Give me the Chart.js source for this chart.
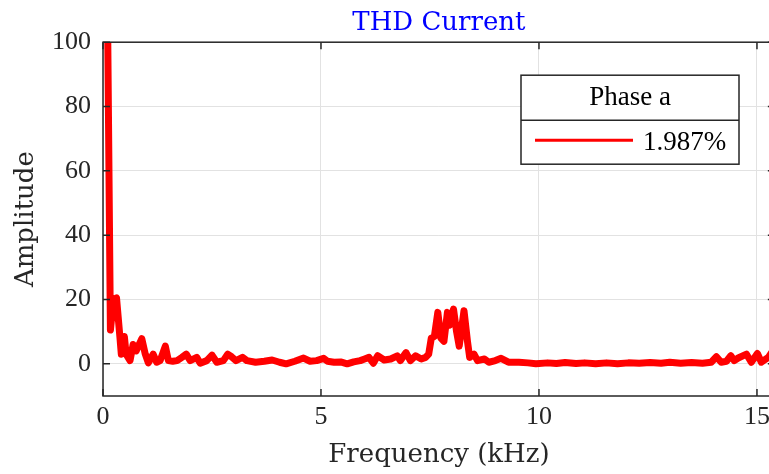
<!DOCTYPE html>
<html>
<head>
<meta charset="utf-8">
<script src="https://cdn.jsdelivr.net/npm/chart.js@4"></script>
<style>
  html, body { margin: 0; padding: 0; background: #fff; overflow: hidden; }
  #wrap { width: 776px; height: 474px; }
</style>
</head>
<body>
<div id="wrap"><canvas id="thdChart" width="776" height="474"></canvas></div>
<script>
// Spectrum (kHz, % of fundamental)
const freqKHz = [
  0.11, 0.17, 0.24, 0.31, 0.39, 0.42, 0.49, 0.53, 0.62, 0.69,
  0.76, 0.89, 0.97, 1.04, 1.15, 1.23, 1.31, 1.43, 1.5, 1.6,
  1.7, 1.81, 1.91, 2.0, 2.15, 2.23, 2.38, 2.5, 2.61, 2.76,
  2.86, 2.95, 3.05, 3.2, 3.3, 3.5, 3.7, 3.88, 4.05, 4.2,
  4.4, 4.6, 4.75, 4.9, 5.06, 5.15, 5.3, 5.45, 5.6, 5.75,
  5.9, 6.0, 6.1, 6.2, 6.3, 6.45, 6.6, 6.75, 6.82, 6.95,
  7.05, 7.17, 7.3, 7.4, 7.47, 7.53, 7.6, 7.68, 7.75, 7.82,
  7.9, 7.95, 8.04, 8.11, 8.17, 8.28, 8.36, 8.41, 8.51, 8.59,
  8.75, 8.85, 9.0, 9.13, 9.3, 9.54, 9.75, 9.93, 10.2, 10.4,
  10.6, 10.85, 11.05, 11.3, 11.55, 11.8, 12.05, 12.3, 12.55, 12.8,
  13.0, 13.25, 13.5, 13.75, 13.95, 14.07, 14.18, 14.3, 14.4, 14.48,
  14.57, 14.76, 14.87, 15.01, 15.1, 15.26, 15.46
];
const amplitude = [
  100, 10.5, 20, 20.5, 8, 3, 8.5, 3, 1, 6,
  4, 7.8, 3, 0.3, 3, 0.5, 1, 5.5, 1, 0.8,
  1, 2, 3, 1, 2, 0.2, 1, 2.7, 0.5, 1,
  3, 2.2, 1, 2, 1, 0.5, 0.8, 1.2, 0.5, 0,
  0.8, 1.8, 0.8, 1, 1.7, 0.8, 0.5, 0.6, 0, 0.6,
  1, 1.5, 2, 0.2, 2.5, 1.2, 1.5, 2.5, 1, 3.5,
  1, 2.5, 1.5, 2, 3, 8, 8.5, 16, 8, 7,
  16, 12, 17, 10, 5.5, 16.5, 7, 2, 3, 1,
  1.5, 0.5, 1, 1.7, 0.5, 0.5, 0.3, 0, 0.3, 0.1,
  0.4, 0.1, 0.3, 0, 0.3, 0, 0.3, 0.2, 0.4, 0.2,
  0.5, 0.2, 0.4, 0.2, 0.5, 2.2, 0.5, 0.8, 2.5, 1,
  1.8, 3, 0.5, 3.2, 0.5, 2, 6
];
const xTicks = [0, 5, 10, 15];
const yTicks = [0, 20, 40, 60, 80, 100];
const seriesLabel = '1.987%';
const legendTitle = 'Phase a';

const AXIS = '#262626';
const GRID = '#e2e2e2';
const NUM_FONT = 'Liberation Serif';
const TXT_FONT = 'DejaVu Serif';

// MATLAB-style box with inward ticks on all four sides
const axesBox = {
  id: 'axesBox',
  afterDraw(chart) {
    const { ctx, chartArea: a, scales } = chart;
    const len = 7;
    ctx.save();
    ctx.strokeStyle = AXIS;
    ctx.lineWidth = 1.5;
    ctx.strokeRect(a.left, a.top, a.right - a.left, a.bottom - a.top);
    ctx.beginPath();
    scales.x.ticks.forEach(t => {
      const px = scales.x.getPixelForValue(t.value);
      ctx.moveTo(px, a.bottom); ctx.lineTo(px, a.bottom - len);
      ctx.moveTo(px, a.top); ctx.lineTo(px, a.top + len);
    });
    scales.y.ticks.forEach(t => {
      const py = scales.y.getPixelForValue(t.value);
      ctx.moveTo(a.left, py); ctx.lineTo(a.left + len, py);
      ctx.moveTo(a.right, py); ctx.lineTo(a.right - len, py);
    });
    ctx.stroke();
    ctx.restore();
  }
};

// Legend box with a title row, drawn inside the axes
const legendBox = {
  id: 'legendBox',
  afterDraw(chart) {
    const { ctx, chartArea: a } = chart;
    const ds = chart.data.datasets[0];
    const x0 = a.left + 418, y0 = a.top + 33;
    const w = 218, h = 89, split = 45;
    ctx.save();
    ctx.fillStyle = '#fff';
    ctx.fillRect(x0, y0, w, h);
    ctx.strokeStyle = AXIS;
    ctx.lineWidth = 1.5;
    ctx.strokeRect(x0, y0, w, h);
    ctx.beginPath();
    ctx.moveTo(x0, y0 + split); ctx.lineTo(x0 + w, y0 + split);
    ctx.stroke();

    ctx.fillStyle = '#000';
    ctx.font = '27px "' + NUM_FONT + '"';
    ctx.textAlign = 'center';
    ctx.textBaseline = 'alphabetic';
    ctx.fillText(legendTitle, x0 + w / 2, y0 + 30);

    const ly = y0 + split + 20;
    ctx.strokeStyle = ds.borderColor;
    ctx.lineWidth = 3;
    ctx.beginPath();
    ctx.moveTo(x0 + 14, ly); ctx.lineTo(x0 + 112, ly);
    ctx.stroke();

    ctx.textAlign = 'left';
    ctx.fillText(ds.label, x0 + 122, y0 + split + 30);
    ctx.restore();
  }
};

new Chart(document.getElementById('thdChart'), {
  type: 'line',
  data: {
    datasets: [{
      label: seriesLabel,
      data: freqKHz.map((f, i) => ({ x: f, y: amplitude[i] })),
      borderColor: '#ff0000',
      borderWidth: 7,
      borderJoinStyle: 'round',
      borderCapStyle: 'round',
      pointRadius: 0,
      tension: 0,
      fill: false,
      clip: 0
    }]
  },
  options: {
    responsive: false,
    animation: false,
    layout: { padding: { top: 0, right: 1, bottom: 0, left: 0 } },
    plugins: {
      legend: { display: false },
      tooltip: { enabled: false },
      title: {
        display: true,
        text: 'THD Current',
        color: '#0000ff',
        fullSize: false,
        font: { family: TXT_FONT, size: 26, weight: 'normal', lineHeight: 1.2 },
        padding: { top: 8, bottom: 3 }
      }
    },
    scales: {
      x: {
        type: 'linear',
        min: 0,
        max: 15.41,
        afterBuildTicks: s => { s.ticks = xTicks.map(v => ({ value: v })); },
        afterFit: s => { s.height = 78; },
        grid: { color: GRID, lineWidth: 1, drawTicks: false },
        border: { display: false },
        ticks: {
          color: AXIS,
          padding: 6,
          maxRotation: 0,
          font: { family: NUM_FONT, size: 26 }
        },
        title: {
          display: true,
          text: 'Frequency (kHz)',
          color: AXIS,
          font: { family: TXT_FONT, size: 26, lineHeight: 1.2 },
          padding: { top: 0, bottom: 3 }
        }
      },
      y: {
        min: -10,
        max: 100,
        afterBuildTicks: s => { s.ticks = yTicks.map(v => ({ value: v })); },
        afterFit: s => { s.width = 103; },
        grid: { color: GRID, lineWidth: 1, drawTicks: false },
        border: { display: false },
        ticks: {
          color: AXIS,
          padding: 12,
          font: { family: NUM_FONT, size: 26 }
        },
        title: {
          display: true,
          text: 'Amplitude',
          color: AXIS,
          font: { family: TXT_FONT, size: 26, lineHeight: 1.2 },
          padding: { top: 11, bottom: 0 }
        }
      }
    }
  },
  plugins: [axesBox, legendBox]
});
</script>
</body>
</html>
